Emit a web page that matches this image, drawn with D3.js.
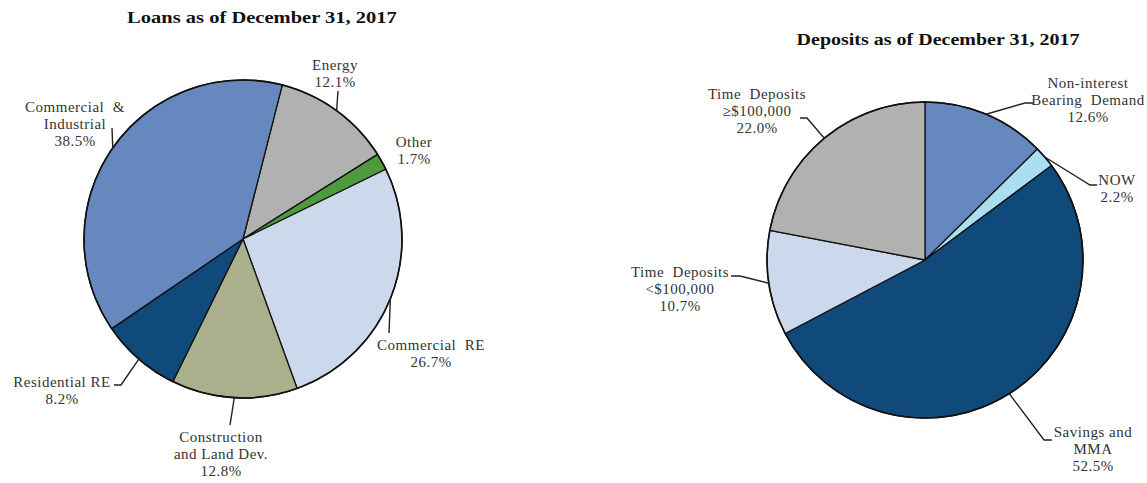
<!DOCTYPE html>
<html><head><meta charset="utf-8">
<script src="https://cdn.jsdelivr.net/npm/d3@7"></script>
<style>body{margin:0;background:#fff}svg{display:block}</style>
</head><body><svg id="c" width="1147" height="483"></svg>
<script>
// ---- data ----
const loanCategories = ["Energy","Other","Commercial RE","Construction and Land Dev.","Residential RE","Commercial & Industrial"];
const loanValues = [12.1, 1.7, 26.7, 12.8, 8.2, 38.5];
const loanLabels = [["Energy","12.1%"],["Other","1.7%"],["Commercial  RE","26.7%"],["Construction","and Land Dev.","12.8%"],["Residential RE","8.2%"],["Commercial  &","Industrial","38.5%"]];
const depositCategories = ["Non-interest Bearing Demand","NOW","Savings and MMA","Time Deposits <$100,000","Time Deposits ≥$100,000"];
const depositValues = [12.6, 2.2, 52.5, 10.7, 22.0];
const depositLabels = [["Non-interest","Bearing  Demand","12.6%"],["NOW","2.2%"],["Savings and","MMA","52.5%"],["Time  Deposits","<$100,000","10.7%"],["Time  Deposits","≥$100,000","22.0%"]];

// ---- styles / layout ----
const loanColors = ["#b1b1b1","#4e9a3c","#ccd8ec","#a9b08b","#0f4a7b","#6688be"];
const depColors = ["#6688be","#a9def3","#0f4a7b","#ccd8ec","#b1b1b1"];
// label anchor (x, y of first line) and leader points after the edge point
const loanLayout = [
  {x:335,y:70,pts:[[338,91]]},
  {x:414,y:147,pts:null},
  {x:431,y:350,pts:[[389,333]]},
  {x:221,y:442,pts:[[230,425]]},
  {x:62,y:387,pts:[[121,385],[114,385]]},
  {x:75,y:112,pts:[[112,128]]}
];
const depLayout = [
  {x:1088,y:88,pts:[[1025,103],[1033,103]]},
  {x:1117,y:185,pts:[[1090,185],[1097,185]]},
  {x:1093,y:437,pts:[[1044,440],[1052,440]]},
  {x:680,y:277,pts:[[740,276],[731,276]]},
  {x:757,y:99,pts:[[807,118],[800,118]]}
];

const svg = d3.select("#c");
const FONT = "'Liberation Serif','Times New Roman',serif";

function drawPie(cx, cy, r, values, colors, labels, layout, startDeg, title, tx, ty, tw){
  const pie = d3.pie().sort(null).value(d=>d)
    .startAngle(startDeg*Math.PI/180).endAngle(startDeg*Math.PI/180+2*Math.PI);
  const arcs = pie(values);
  const arc = d3.arc().innerRadius(0).outerRadius(r);
  const g = svg.append("g").attr("transform",`translate(${cx},${cy})`);
  g.selectAll("path").data(arcs).join("path")
    .attr("d",arc).attr("fill",(d,i)=>colors[i])
    .attr("stroke","#111").attr("stroke-width",1.3).attr("stroke-linejoin","round");
  g.append("circle").attr("r",r).attr("fill","none").attr("stroke","#111").attr("stroke-width",1.6);
  arcs.forEach((a,i)=>{
    const L = layout[i];
    if(L.pts){
      const m = (a.startAngle+a.endAngle)/2;
      const p0 = [cx + r*Math.sin(m), cy - r*Math.cos(m)];
      svg.append("path").attr("d", d3.line()([p0].concat(L.pts))).attr("fill","none")
        .attr("stroke","#222").attr("stroke-width",1.4);
    }
    const t = svg.append("text").attr("x",L.x).attr("y",L.y).attr("text-anchor","middle")
      .attr("font-family",FONT).attr("font-size",15).attr("letter-spacing",0.5)
      .attr("fill","#333").style("white-space","pre");
    labels[i].forEach((s,k)=>{
      t.append("tspan").attr("x",L.x).attr("dy",k===0?0:17).text(s);
    });
  });
  const tt = svg.append("text").attr("text-anchor","middle")
    .attr("font-family",FONT).attr("font-weight","bold").attr("font-size",17.5)
    .attr("fill","#111").text(title);
  const w = tt.node().getComputedTextLength();
  tt.attr("transform",`translate(${tx},${ty}) scale(${tw/w},1)`);
}

drawPie(243, 239, 159, loanValues, loanColors, loanLabels, loanLayout, 14.3,
  "Loans as of December 31, 2017", 262, 23, 270);
drawPie(925, 260, 158, depositValues, depColors, depositLabels, depLayout, 0,
  "Deposits as of December 31, 2017", 938, 45, 283);
</script></body></html>
